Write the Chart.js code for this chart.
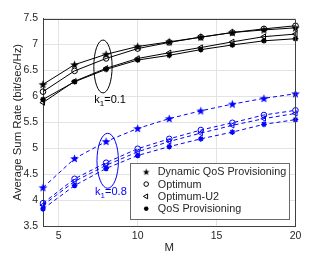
<!DOCTYPE html>
<html><head><meta charset="utf-8">
<script src="https://cdn.jsdelivr.net/npm/chart.js@4.4.1/dist/chart.umd.min.js"></script>
<style>html,body{margin:0;padding:0;background:#fff;overflow:hidden}canvas{display:block}</style>
</head><body>
<canvas id="c" width="327" height="256"></canvas>
<script>
// ---- data ----
const M = [4, 6, 8, 10, 12, 14, 16, 18, 20];
const xTicks = [5, 10, 15, 20];
const yTicks = [3.5, 4, 4.5, 5, 5.5, 6, 6.5, 7, 7.5];
const seriesNames = ['Dynamic QoS Provisioning', 'Optimum', 'Optimum-U2', 'QoS Provisioning'];

// k1 = 0.1 (black, solid)
const dyn01  = [6.23, 6.61, 6.81, 6.96, 7.05, 7.14, 7.23, 7.28, 7.32];
const opt01  = [6.09, 6.49, 6.73, 6.92, 7.04, 7.14, 7.23, 7.30, 7.36];
const u2_01  = [5.88, 6.29, 6.54, 6.73, 6.84, 6.94, 7.05, 7.15, 7.20];
const qos01  = [5.94, 6.28, 6.52, 6.70, 6.79, 6.90, 6.99, 7.07, 7.11];

// k1 = 0.8 (blue, dashed)
const dyn08  = [4.24, 4.80, 5.13, 5.38, 5.57, 5.72, 5.85, 5.96, 6.05];
const opt08  = [3.94, 4.41, 4.72, 4.99, 5.18, 5.35, 5.49, 5.64, 5.73];
const u2_08  = [3.90, 4.36, 4.67, 4.93, 5.13, 5.29, 5.44, 5.57, 5.67];
const qos08  = [3.83, 4.28, 4.61, 4.86, 5.03, 5.18, 5.31, 5.46, 5.55];

const groupTexts = ['=0.1', '=0.8'];

// ---- styles ----
const FONT = "'Liberation Sans', Arial, Helvetica, sans-serif";
const TXT = '#262626';
const AXIS = '#404040';
const GRID = '#e3e3e3';
const BLACK = '#000000';
const BLUE = '#0000ff';

function starCanvas(color, R, r) {
  const size = Math.ceil(R * 2) + 1;
  const c = document.createElement('canvas');
  c.width = size; c.height = size;
  const g = c.getContext('2d');
  g.fillStyle = color;
  g.beginPath();
  for (let i = 0; i < 10; i++) {
    const rr = i % 2 === 0 ? R : r;
    const a = -Math.PI / 2 + i * Math.PI / 5;
    const px = size / 2 + rr * Math.cos(a), py = size / 2 + 0.4 + rr * Math.sin(a);
    i === 0 ? g.moveTo(px, py) : g.lineTo(px, py);
  }
  g.closePath();
  g.fill();
  return c;
}
const starBlack = starCanvas(BLACK, 4.6, 1.9);
const starBlue = starCanvas(BLUE, 4.6, 1.9);
const starLegend = starCanvas(BLACK, 3.6, 1.5);

function pts(arr) { return M.map((m, i) => ({ x: m, y: arr[i] })); }

function makeSet(label, arr, color, kind, dashed) {
  const base = {
    label, data: pts(arr), borderColor: color, borderWidth: 1,
    borderDash: dashed ? [4, 3] : [], tension: 0, fill: false, clip: false,
    pointBorderColor: color, pointBackgroundColor: 'rgba(0,0,0,0)',
    pointBorderWidth: 1, pointHoverRadius: 0
  };
  if (kind === 0) { base.pointStyle = color === BLUE ? starBlue : starBlack; base.pointRadius = 5; }
  if (kind === 1) { base.pointStyle = 'circle'; base.pointRadius = 2.8; }
  if (kind === 2) { base.pointStyle = 'triangle'; base.pointRadius = 3.1; base.pointRotation = -90; }
  if (kind === 3) { base.pointStyle = 'star'; base.pointRadius = 2.8; base.pointBorderWidth = 1.4; }
  return base;
}

const datasets = [
  makeSet(seriesNames[0], dyn01, BLACK, 0, false),
  makeSet(seriesNames[1], opt01, BLACK, 1, false),
  makeSet(seriesNames[2], u2_01, BLACK, 2, false),
  makeSet(seriesNames[3], qos01, BLACK, 3, false),
  makeSet(seriesNames[0], dyn08, BLUE, 0, true),
  makeSet(seriesNames[1], opt08, BLUE, 1, true),
  makeSet(seriesNames[2], u2_08, BLUE, 2, true),
  makeSet(seriesNames[3], qos08, BLUE, 3, true)
];

// annotation geometry (data coordinates)
const groups = [
  { cx: 7.80, cy: 6.575, rx: 0.58, ry: 0.51, tx: 7.25, ty: 5.93, color: BLACK, text: groupTexts[0] },
  { cx: 8.10, cy: 4.757, rx: 0.68, ry: 0.53, tx: 7.30, ty: 4.16, color: BLUE, text: groupTexts[1] }
];

function drawMarker(ctx, kind, x, y, color) {
  ctx.save();
  ctx.strokeStyle = color; ctx.fillStyle = color; ctx.lineWidth = 1;
  if (kind === 0) {
    ctx.drawImage(starLegend, x - starLegend.width / 2, y - starLegend.height / 2);
  } else if (kind === 1) {
    ctx.beginPath(); ctx.arc(x, y, 2.3, 0, Math.PI * 2); ctx.stroke();
  } else if (kind === 2) {
    const r = 2.8;
    ctx.beginPath();
    ctx.moveTo(x - r, y);
    ctx.lineTo(x + r * 0.5, y - r * 0.87);
    ctx.lineTo(x + r * 0.5, y + r * 0.87);
    ctx.closePath(); ctx.stroke();
  } else {
    ctx.lineWidth = 1.3;
    const r = 2.3;
    ctx.beginPath();
    for (let i = 0; i < 4; i++) {
      const a = i * Math.PI / 4;
      ctx.moveTo(x - r * Math.cos(a), y - r * Math.sin(a));
      ctx.lineTo(x + r * Math.cos(a), y + r * Math.sin(a));
    }
    ctx.stroke();
  }
  ctx.restore();
}

const decor = {
  id: 'decor',
  afterDatasetsDraw(chart) {
    const { ctx, chartArea: a, scales: { x, y } } = chart;
    ctx.save();
    // top & right border of the box
    ctx.strokeStyle = AXIS; ctx.lineWidth = 1;
    ctx.beginPath();
    ctx.moveTo(Math.round(a.left) + 0.5, Math.round(a.top) + 0.5);
    ctx.lineTo(Math.round(a.right) - 0.5, Math.round(a.top) + 0.5);
    ctx.lineTo(Math.round(a.right) - 0.5, Math.round(a.bottom));
    ctx.stroke();

    // ellipses and k labels
    groups.forEach(g => {
      const px = x.getPixelForValue(g.cx), py = y.getPixelForValue(g.cy);
      const rxp = Math.abs(x.getPixelForValue(g.cx + g.rx) - px);
      const ryp = Math.abs(y.getPixelForValue(g.cy + g.ry) - py);
      ctx.strokeStyle = g.color; ctx.lineWidth = 1;
      ctx.beginPath(); ctx.ellipse(px, py, rxp, ryp, 0, 0, Math.PI * 2); ctx.stroke();
      const tx = x.getPixelForValue(g.tx), ty = y.getPixelForValue(g.ty);
      ctx.fillStyle = g.color; ctx.textBaseline = 'middle'; ctx.textAlign = 'left';
      ctx.font = '11px ' + FONT;
      ctx.fillText('k', tx, ty);
      let w = ctx.measureText('k').width;
      ctx.font = '8px ' + FONT;
      ctx.fillText('1', tx + w, ty + 4);
      w += ctx.measureText('1').width;
      ctx.font = '11px ' + FONT;
      ctx.fillText(g.text, tx + w, ty);
    });

    // legend
    const lw = 159, lh = 56;
    const lx = Math.round(a.right - 6.5 - lw) + 0.5, ly = Math.round(a.bottom - 7 - lh) + 0.5;
    ctx.fillStyle = '#ffffff'; ctx.fillRect(lx, ly, lw, lh);
    ctx.strokeStyle = '#6a6a6a'; ctx.lineWidth = 1; ctx.strokeRect(lx, ly, lw, lh);
    ctx.font = '10.8px ' + FONT; ctx.fillStyle = TXT; ctx.textBaseline = 'middle'; ctx.textAlign = 'left';
    seriesNames.forEach((name, i) => {
      const yy = ly + 8.3 + i * 12.3;
      drawMarker(ctx, i, lx + 15.7, yy, BLACK);
      ctx.fillStyle = TXT;
      ctx.fillText(name, lx + 27.3, yy + 0.5);
    });
    ctx.restore();
  }
};

new Chart(document.getElementById('c'), {
  type: 'line',
  data: { datasets },
  plugins: [decor],
  options: {
    responsive: false, animation: false, devicePixelRatio: 1,
    layout: { padding: { left: 0, right: 31.5, top: 18.5, bottom: 0 } },
    plugins: { legend: { display: false }, tooltip: { enabled: false } },
    events: [],
    scales: {
      x: {
        type: 'linear', min: 4, max: 20,
        afterBuildTicks: s => { s.ticks = xTicks.map(v => ({ value: v })); },
        afterFit: s => { s.height = 30; },
        grid: { color: GRID, drawTicks: false },
        border: { display: true, color: AXIS, width: 1 },
        ticks: { color: TXT, font: { family: FONT, size: 10.5 }, padding: 4, maxRotation: 0 },
        title: { display: true, text: 'M', color: TXT, font: { family: FONT, size: 11.4 }, padding: { top: 0, bottom: 1 } }
      },
      y: {
        type: 'linear', min: 3.5, max: 7.5,
        afterBuildTicks: s => { s.ticks = yTicks.map(v => ({ value: v })); },
        afterFit: s => { s.width = 43; },
        grid: { color: GRID, drawTicks: false },
        border: { display: true, color: AXIS, width: 1 },
        ticks: { color: TXT, font: { family: FONT, size: 10.5 }, padding: 5, callback: v => String(v) },
        title: { display: true, text: 'Average Sum Rate (bit/sec/Hz)', color: TXT, font: { family: FONT, size: 11.4 }, padding: { top: 11, bottom: 0 } }
      }
    }
  }
});
</script>
</body></html>
